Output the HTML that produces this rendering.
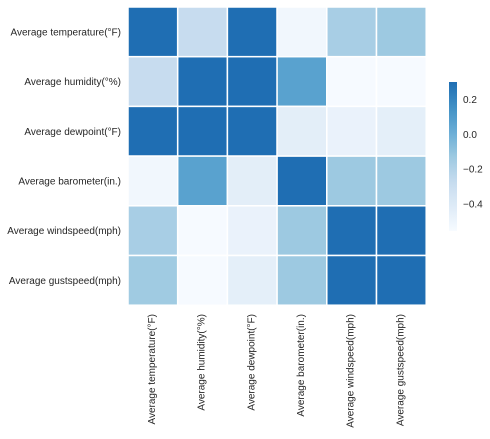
<!DOCTYPE html>
<html><head><meta charset="utf-8"><style>
body{margin:0;background:#fff;font-family:"Liberation Sans",sans-serif;}
svg text{font-family:"Liberation Sans",sans-serif;font-size:10px;fill:#262626;}
</style></head><body>
<svg id="chart" width="490" height="434"></svg>
<script>
const labels=["Average temperature(°F)","Average humidity(°%)","Average dewpoint(°F)","Average barometer(in.)","Average windspeed(mph)","Average gustspeed(mph)"];
const row0=[1,-0.28,1,-0.52,-0.17,-0.13];
const row1=[-0.28,1,0.9,0.07,-0.55,-0.55];
const row2=[1,0.9,1,-0.44,-0.48,-0.45];
const row3=[-0.52,0.07,-0.44,1,-0.13,-0.13];
const row4=[-0.17,-0.55,-0.48,-0.13,1,1];
const row5=[-0.14,-0.55,-0.45,-0.13,1,1];
const rows=[row0,row1,row2,row3,row4,row5];
const cbTicks=[0.2,0.0,-0.2,-0.4];
const vmin=-0.555,vmax=0.3;
const stops=[[0,[247,251,255]],[0.125,[222,235,247]],[0.25,[198,219,239]],[0.375,[158,202,225]],[0.5,[107,174,214]],[0.625,[66,146,198]],[0.76,[31,110,179]]];
function color(v){let t=Math.max(0,Math.min(1,(v-vmin)/(vmax-vmin)))*0.76;
for(let i=1;i<stops.length;i++){if(t<=stops[i][0]){const a=stops[i-1],b=stops[i],f=(t-a[0])/(b[0]-a[0]);
return 'rgb('+a[1].map((c,k)=>Math.round(c+(b[1][k]-c)*f)).join(',')+')';}}return 'rgb(31,110,179)';}
const NS='http://www.w3.org/2000/svg',svg=document.getElementById('chart');
const x0=128,y0=7,cw=49.7;
function xs(i){return x0+i*cw;} function ys(i){return y0+i*cw;}
function mk(t,a){const e=document.createElementNS(NS,t);for(const k in a)e.setAttribute(k,a[k]);svg.appendChild(e);return e;}
rows.forEach((r,i)=>r.forEach((v,j)=>{
const e=mk('rect',{x:xs(j),y:ys(i),width:cw,height:cw,fill:color(v),stroke:'#fff','stroke-width':1.5});


}));
labels.forEach((l,i)=>{
const t=mk('text',{x:121,y:ys(i)+cw/2+3.5,'text-anchor':'end'});t.textContent=l;


const cx=xs(i)+cw/2+2;
const u=mk('text',{x:cx,y:314,'text-anchor':'end',transform:'rotate(-90 '+cx+' 314)'});u.textContent=l;


});
const cbx=449,cbw=8,cbt=82,cbb=231;
function cy(v){return cbb-(v-vmin)/(vmax-vmin)*(cbb-cbt);}
const defs=mk('defs',{});const g=document.createElementNS(NS,'linearGradient');g.setAttribute('id','cg');g.setAttribute('x1',0);g.setAttribute('y1',1);g.setAttribute('x2',0);g.setAttribute('y2',0);defs.appendChild(g);
for(let k=0;k<=20;k++){const s=document.createElementNS(NS,'stop');s.setAttribute('offset',k/20);s.setAttribute('stop-color',color(vmin+(vmax-vmin)*k/20));g.appendChild(s);}
const cb=mk('rect',{x:cbx,y:cbt,width:cbw,height:cbb-cbt,fill:'url(#cg)'});


cbTicks.forEach(v=>{const t=mk('text',{x:463,y:cy(v)+3.5});t.textContent=(v<0?'\u2212':'')+Math.abs(v).toFixed(1);

});
</script>
</body></html>
